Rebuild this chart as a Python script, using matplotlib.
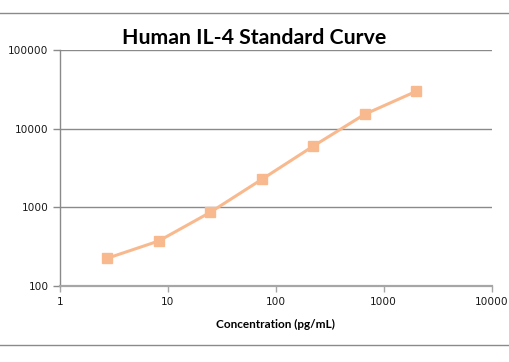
import matplotlib
matplotlib.use("Agg")
import matplotlib.pyplot as plt
from matplotlib.lines import Line2D
from matplotlib.ticker import FixedLocator, FixedFormatter, NullLocator

concentration = [2.74, 8.23, 24.7, 74.1, 222, 667, 2000]
signal = [223, 370, 857, 2250, 5960, 15200, 29800]
x_ticks = [1, 10, 100, 1000, 10000]
x_tick_labels = ["1", "10", "100", "1000", "10000"]
y_ticks = [100, 1000, 10000, 100000]
y_tick_labels = ["100", "1000", "10000", "100000"]
title = "Human IL-4 Standard Curve"
x_label = "Concentration (pg/mL)"
y_label = "Fluorescence"

W, H = 510, 362
fig = plt.figure(figsize=(W / 100, H / 100), dpi=100)
ax = fig.add_axes([59.7 / W, 1 - 285.7 / H, (491.7 - 59.7) / W, (285.7 - 50) / H])

color = "#F9B98E"
ax.plot(concentration, signal, color=color, lw=2.2, marker="s", ms=7,
        mec=color, mfc=color, solid_capstyle="round", zorder=3, clip_on=False)

ax.set_xscale("log")
ax.set_yscale("log")
ax.set_xlim(1, 10000)
ax.set_ylim(100, 100000)
ax.xaxis.set_major_locator(FixedLocator(x_ticks))
ax.xaxis.set_major_formatter(FixedFormatter(x_tick_labels))
ax.yaxis.set_major_locator(FixedLocator(y_ticks))
ax.yaxis.set_major_formatter(FixedFormatter(y_tick_labels))
ax.xaxis.set_minor_locator(NullLocator())
ax.yaxis.set_minor_locator(NullLocator())

ax.grid(axis="y", color="#8a8a8a", lw=1.0)
ax.set_axisbelow(True)
for s in ["top", "right"]:
    ax.spines[s].set_visible(False)
ax.spines["left"].set_color("#8a8a8a")
ax.spines["left"].set_linewidth(1.0)
ax.spines["bottom"].set_color("#a6a6a6")
ax.spines["bottom"].set_linewidth(1.6)
ax.tick_params(axis="y", direction="out", length=5, width=1, color="#8a8a8a",
               labelsize=7.6, pad=3, labelcolor="#1a1a1a")
ax.tick_params(axis="x", direction="out", length=4, width=1, color="#a6a6a6",
               labelsize=7.6, pad=4, labelcolor="#1a1a1a")

fig.text(254 / W, 1 - 38 / H, title, ha="center", va="center",
         fontsize=15.3, fontweight="bold", family="Lato", color="#000000")
fig.text(275 / W, 1 - 324 / H, x_label, ha="center", va="center",
         fontsize=8.5, fontweight="bold", family="Lato", color="#000000")
fig.text(-3.5 / W, 1 - 170 / H, y_label, ha="center", va="center", rotation=90,
         fontsize=8.5, fontweight="bold", family="Lato", color="#1F3F8F")

fig.add_artist(Line2D([0, 1], [1 - 13 / H, 1 - 13 / H], color="#8a8a8a", lw=1.0,
                      transform=fig.transFigure))
fig.add_artist(Line2D([0, 1], [1 - 345 / H, 1 - 345 / H], color="#8a8a8a", lw=1.0,
                      transform=fig.transFigure))

fig.savefig("out.png", dpi=100)
